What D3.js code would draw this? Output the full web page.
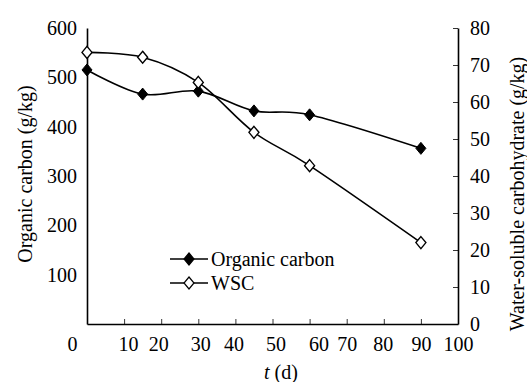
<!DOCTYPE html>
<html>
<head>
<meta charset="utf-8">
<script src="https://cdn.jsdelivr.net/npm/d3@7"></script>
<style>
  body { margin: 0; background: #fff; }
  svg { display: block; font-family: "Liberation Serif", "Times New Roman", serif; }
  .axis text { font-family: "Liberation Serif", serif; font-size: 20px; fill: #000; }
</style>
</head>
<body>
<div id="chart"></div>
<script>
// data
const days = [0, 15, 30, 45, 60, 90];
const organicCarbon = [515, 466, 472, 432, 424, 356];
const wsc = [73.4, 72.1, 65.3, 51.8, 42.8, 22.0];
const xTicks = [0, 10, 20, 30, 40, 50, 60, 70, 80, 90, 100];
const leftTicks = [100, 200, 300, 400, 500, 600];
const rightTicks = [0, 10, 20, 30, 40, 50, 60, 70, 80];

// the x tick labels are not centred on their ticks in the original
const xLabelShift = { 0: -15, 10: 4, 20: -3, 30: 2, 40: -2, 50: 3, 60: 9, 70: 0, 80: -1, 90: 0, 100: 0 };

const W = 527, H = 382;
const plot = { left: 87, right: 458, top: 28, bottom: 324 };

const x = d3.scaleLinear().domain([0, 100]).range([plot.left, plot.right]);
const yL = d3.scaleLinear().domain([0, 600]).range([plot.bottom, plot.top]);
const yR = d3.scaleLinear().domain([0, 80]).range([plot.bottom, plot.top]);

const svg = d3.select("#chart").append("svg")
  .attr("width", W)
  .attr("height", H);

// diamond wider than d3's own
const diamond = {
  draw(ctx, size) {
    const w = Math.sqrt(size) * 0.5, h = Math.sqrt(size) * 0.6;
    ctx.moveTo(0, -h); ctx.lineTo(w, 0); ctx.lineTo(0, h); ctx.lineTo(-w, 0); ctx.closePath();
  }
};
const sym = d3.symbol().type(diamond).size(100);

// bottom axis
const xAxis = svg.append("g")
  .attr("class", "axis")
  .attr("transform", `translate(0,${plot.bottom})`)
  .call(d3.axisBottom(x).tickValues(xTicks).tickSizeInner(-5).tickSizeOuter(0).tickPadding(9));
xAxis.select(".domain").attr("stroke-width", 1.6);
xAxis.selectAll(".tick line").attr("stroke-width", 0.8)
  .filter(d => d === 0 || d === 100).remove();
xAxis.selectAll(".tick text").attr("dx", d => xLabelShift[d]).attr("dy", "0.9em");

// left axis, no tick marks
const leftAxis = svg.append("g")
  .attr("class", "axis")
  .attr("transform", `translate(${plot.left},0)`)
  .call(d3.axisLeft(yL).tickValues(leftTicks).tickSize(0).tickPadding(10));
leftAxis.select(".domain").attr("stroke-width", 1.6);

// right axis, ticks point inward
const rightAxis = svg.append("g")
  .attr("class", "axis")
  .attr("transform", `translate(${plot.right},0)`)
  .call(d3.axisRight(yR).tickValues(rightTicks).tickSizeInner(-5).tickSizeOuter(0).tickPadding(12));
rightAxis.select(".domain").attr("stroke-width", 1.6);
rightAxis.selectAll(".tick line").attr("stroke-width", 0.8).filter(d => d === 0).remove();

// series
const line = d3.line().curve(d3.curveCatmullRom.alpha(0));

const ocPts = days.map((d, i) => [x(d), yL(organicCarbon[i])]);
const wscPts = days.map((d, i) => [x(d), yR(wsc[i])]);

svg.append("path")
  .attr("d", line(ocPts))
  .attr("fill", "none").attr("stroke", "#000").attr("stroke-width", 1.6);
svg.append("path")
  .attr("d", line(wscPts))
  .attr("fill", "none").attr("stroke", "#000").attr("stroke-width", 1.6);

svg.selectAll(".oc").data(ocPts).enter().append("path")
  .attr("transform", d => `translate(${d[0]},${d[1]})`)
  .attr("d", sym).attr("fill", "#000").attr("stroke", "#000").attr("stroke-width", 1);
svg.selectAll(".wsc").data(wscPts).enter().append("path")
  .attr("transform", d => `translate(${d[0]},${d[1]})`)
  .attr("d", sym).attr("fill", "#fff").attr("stroke", "#000").attr("stroke-width", 1.4);

// legend
const legend = [
  { name: "Organic carbon", fill: "#000", y: 259 },
  { name: "WSC", fill: "#fff", y: 283 }
];
const lg = svg.selectAll(".legend").data(legend).enter().append("g")
  .attr("transform", d => `translate(170,${d.y})`);
lg.append("line").attr("x1", 0).attr("x2", 38)
  .attr("stroke", "#000").attr("stroke-width", 1.6);
lg.append("path").attr("transform", "translate(19,0)")
  .attr("d", sym).attr("fill", d => d.fill).attr("stroke", "#000").attr("stroke-width", 1.2);
lg.append("text").attr("x", 41).attr("dy", "0.33em")
  .style("font-size", "20px").text(d => d.name);

// axis titles
svg.append("text")
  .attr("transform", `translate(32,${(plot.top + plot.bottom) / 2 - 2}) rotate(-90)`)
  .attr("text-anchor", "middle")
  .style("font-size", "20px")
  .text("Organic carbon (g/kg)");

svg.append("text")
  .attr("transform", `translate(524,${(plot.top + plot.bottom) / 2 + 18}) rotate(-90)`)
  .attr("text-anchor", "middle")
  .style("font-size", "20px")
  .text("Water-soluble carbohydrate (g/kg)");

const xt = svg.append("text")
  .attr("x", 281).attr("y", 379)
  .attr("text-anchor", "middle")
  .style("font-size", "20px");
xt.append("tspan").style("font-style", "italic").text("t");
xt.append("tspan").text(" (d)");
</script>
</body>
</html>
